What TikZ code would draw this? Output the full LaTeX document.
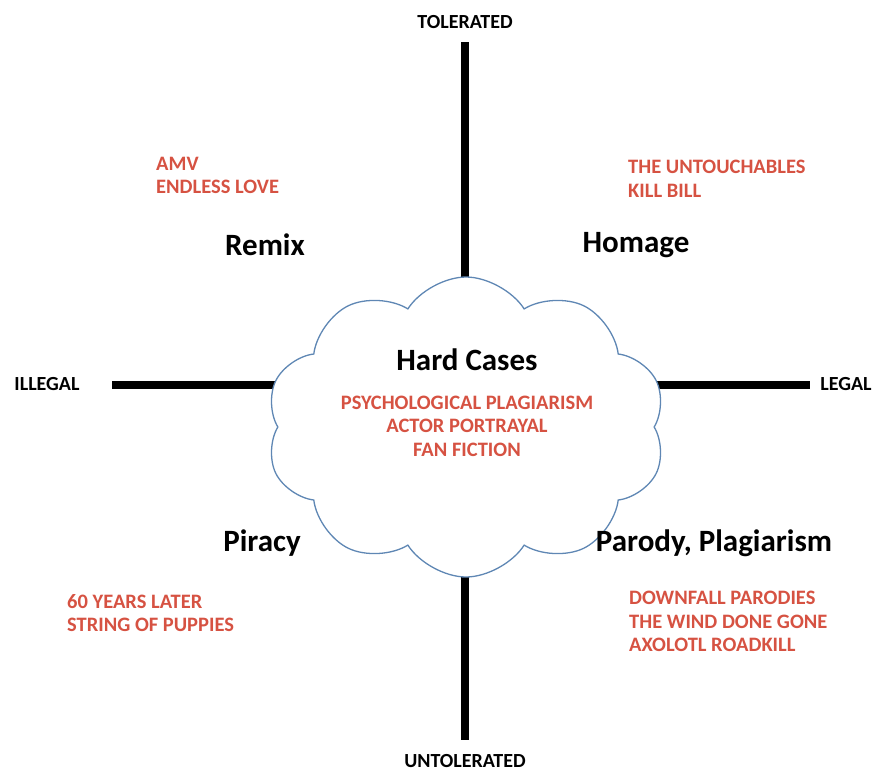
\documentclass[tikz,border=0pt]{standalone}
\usepackage{fontspec}
\setmainfont{Carlito}
\usepackage{tikz}
\usetikzlibrary{positioning,shapes.symbols}
\usepackage{xcolor}
\definecolor{casered}{RGB}{214,82,66}
\definecolor{cloudline}{RGB}{95,135,180}

\begin{document}
\begin{tikzpicture}[x=1pt,y=-1pt]
\useasboundingbox (0,0) rectangle (878,772);
\tikzset{
  axis/.style={line width=8.5pt, black},
  axislabel/.style={font=\bfseries\fontsize{20}{22}\selectfont, inner sep=0pt},
  quadlabel/.style={font=\bfseries\fontsize{31}{34}\selectfont, inner sep=0pt},
  examples/.style={font=\bfseries\fontsize{20.5}{23.5}\selectfont, text=casered, align=left, anchor=north west, inner sep=0pt},
}
% axes, drawn first so the cloud sits on top
\coordinate (topend) at (465,42);
\coordinate (botend) at (465,740);
\coordinate (leftend) at (112,385);
\coordinate (rightend) at (810,385);
\draw[axis] (topend) -- (botend);
\draw[axis] (leftend) -- (rightend);
\node[axislabel] (tolerated) at (465,22) {TOLERATED};
\node[axislabel] (untolerated) at (465,761) {UNTOLERATED};
\node[axislabel] (illegal) at (47,384) {ILLEGAL};
\node[axislabel] (legal) at (846,384) {LEGAL};
% the cloud in the middle
\node[cloud, cloud puffs=10, cloud puff arc=115, draw=cloudline, line width=1.3pt, fill=white,
      minimum width=400pt, minimum height=300pt, inner sep=0pt] (hard) at (466,427) {};
\node[quadlabel] (hardcases) at (467,360) {Hard Cases};
\node[font=\bfseries\fontsize{20.5}{23.5}\selectfont, text=casered, align=center, inner sep=0pt]
  (hardlist) at (467,426) {PSYCHOLOGICAL PLAGIARISM\\ACTOR PORTRAYAL\\FAN FICTION};
% quadrants
\node[quadlabel] (remix) at (265,245) {Remix};
\node[quadlabel] (homage) at (636,245) {Homage};
\node[quadlabel] (piracy) at (262,543) {Piracy};
\node[quadlabel] (parody) at (714,543) {Parody, Plagiarism};
\node[examples] (remixlist) at (156,157) {AMV\\ENDLESS LOVE};
\node[examples] (homagelist) at (628,160) {THE UNTOUCHABLES\\KILL BILL};
\node[examples] (piracylist) at (67,594) {60 YEARS LATER\\STRING OF PUPPIES};
\node[examples] (parodylist) at (629,591) {DOWNFALL PARODIES\\THE WIND DONE GONE\\AXOLOTL ROADKILL};
\end{tikzpicture}
\end{document}
